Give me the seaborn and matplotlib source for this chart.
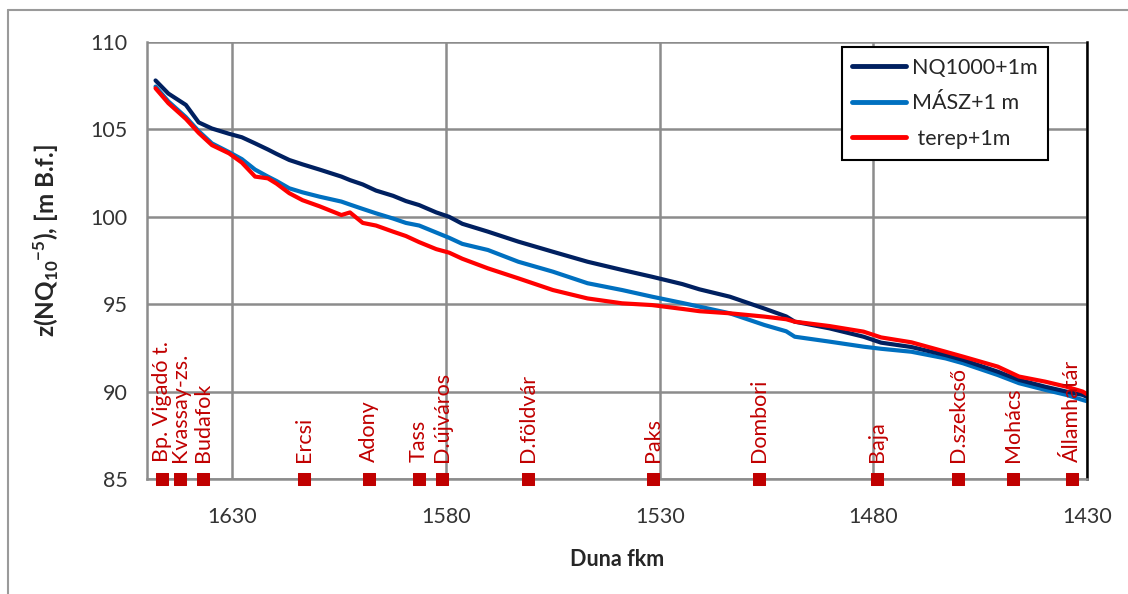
import matplotlib
matplotlib.use("Agg")
import matplotlib.pyplot as plt
from matplotlib.lines import Line2D
import seaborn as sns
import pandas as pd

# Duna fkm
fkm = [1648, 1645, 1640.9, 1637.9, 1634.8, 1630.8, 1627.8, 1624.7, 1621.7, 1619.7, 1616.7,
       1613.6, 1609.6, 1604.5, 1602.5, 1599.5, 1596.4, 1592.4, 1589.4, 1586.3, 1582.3,
       1579.3, 1576.2, 1570.2, 1563.1, 1555.0, 1546.9, 1538.8, 1531.8, 1524.7, 1520.7,
       1513.6, 1505.5, 1500.4, 1498.4, 1490.3, 1482.3, 1478.2, 1471.1, 1463.1, 1459.0,
       1450.9, 1445.9, 1439.8, 1434.8, 1431.0, 1430]

nq1000 = [107.8, 107.05, 106.4, 105.4, 105.05, 104.75, 104.55, 104.2, 103.85, 103.6, 103.25,
          103.0, 102.7, 102.3, 102.1, 101.85, 101.5, 101.2, 100.9, 100.67, 100.25, 100.0,
          99.6, 99.15, 98.58, 98.0, 97.43, 96.96, 96.57, 96.15, 95.85, 95.43, 94.75, 94.3,
          94.0, 93.62, 93.14, 92.8, 92.55, 92.09, 91.81, 91.14, 90.67, 90.28, 90.0, 89.81,
          89.7]

masz = [107.45, 106.6, 105.7, 104.9, 104.2, 103.7, 103.3, 102.7, 102.3, 102.05, 101.63,
        101.4, 101.15, 100.87, 100.7, 100.45, 100.2, 99.9, 99.65, 99.5, 99.1, 98.8, 98.45,
        98.1, 97.43, 96.86, 96.2, 95.81, 95.43, 95.07, 94.86, 94.48, 93.81, 93.45, 93.14,
        92.86, 92.57, 92.45, 92.28, 91.9, 91.62, 90.95, 90.48, 90.1, 89.81, 89.52, 89.45]

terep = [107.35, 106.5, 105.6, 104.8, 104.1, 103.63, 103.1, 102.3, 102.2, 101.9, 101.35,
         100.95, 100.6, 100.1, 100.25, 99.65, 99.5, 99.15, 98.9, 98.55, 98.15, 97.95, 97.6,
         97.05, 96.48, 95.81, 95.33, 95.05, 94.95, 94.73, 94.6, 94.48, 94.29, 94.14, 94.0,
         93.75, 93.43, 93.1, 92.82, 92.28, 92.0, 91.43, 90.86, 90.57, 90.28, 90.0, 89.85]

# állomások
allomas = ["Bp. Vigadó t.", "Kvassay-zs.", "Budafok", "Ercsi", "Adony", "Tass", "D.újváros",
           "D.földvár", "Paks", "Dombori", "Baja", "D.szekcső", "Mohács", "Államhatár"]
allomas_fkm = [1646.5, 1642.3, 1636.9, 1613.3, 1598.1, 1586.4, 1581.0, 1560.9, 1531.6,
               1506.8, 1479.2, 1460.3, 1447.4, 1433.6]

sns.set_style("white")
plt.rcParams["font.family"] = ["Lato", "DejaVu Sans"]
plt.rcParams["mathtext.default"] = "regular"

df = pd.DataFrame({"fkm": fkm, "NQ1000+1m": nq1000, "MÁSZ+1 m": masz, " terep+1m": terep})

fig = plt.figure(figsize=(11.28, 5.94), dpi=100)
ax = fig.add_axes([147 / 1128, 1 - 479 / 594, 940 / 1128, 437 / 594])

szinek = {"NQ1000+1m": "#002060", "MÁSZ+1 m": "#0070C0", " terep+1m": "#FF0000"}
# rajzolási sorrend: kék, sötétkék, piros
for nev in ["MÁSZ+1 m", "NQ1000+1m", " terep+1m"]:
    sns.lineplot(data=df, x="fkm", y=nev, ax=ax, color=szinek[nev], lw=3.0, label=nev,
                 sort=False, legend=False)

# állomás jelölők és feliratok
sns.scatterplot(x=allomas_fkm, y=[85] * len(allomas_fkm), ax=ax, marker="s", s=85,
                color="#C00000", edgecolor="#C00000", clip_on=False, zorder=5, legend=False)
for nev, x in zip(allomas, allomas_fkm):
    ax.text(x, 86.0, nev, rotation=90, ha="center", va="bottom", color="#C00000",
            fontsize=15.5, zorder=4)

ax.set_xlim(1650, 1430)
ax.set_ylim(85, 110)
ax.set_xticks([1630, 1580, 1530, 1480, 1430])
ax.set_yticks([85, 90, 95, 100, 105, 110])
ax.tick_params(axis="both", labelsize=15.5, colors="#333333", length=6, width=1.2,
               color="#8c8c8c", direction="out", pad=8)
ax.tick_params(axis="x", pad=14)
ax.grid(True, color="#8c8c8c", lw=1.8)
ax.set_axisbelow(True)

ax.spines["top"].set_visible(False)
ax.spines["left"].set_color("#8c8c8c")
ax.spines["left"].set_linewidth(1.8)
ax.spines["bottom"].set_color("#8c8c8c")
ax.spines["bottom"].set_linewidth(1.8)
ax.spines["right"].set_color("black")
ax.spines["right"].set_linewidth(1.8)

ax.set_xlabel("Duna fkm", fontsize=15.5, fontweight="bold", labelpad=16)
ax.set_ylabel("z(NQ$_{10}$$^{-5}$), [m B.f.]", fontsize=17.5, fontweight="bold")
ax.yaxis.set_label_coords(-0.092, 0.545)

# jelmagyarázat
handles = [Line2D([0], [0], color=szinek[n], lw=3.5) for n in szinek]
leg = ax.legend(handles, list(szinek.keys()), loc="upper right",
                bbox_to_anchor=(0.9585, 0.9886), fontsize=15.5, frameon=True,
                fancybox=False, edgecolor="black", framealpha=1, borderpad=0.5,
                handlelength=2.5, handletextpad=0.25, labelspacing=0.72, borderaxespad=0)
leg.get_frame().set_linewidth(1.5)

# diagram keret
fig.add_artist(Line2D([8 / 1128, 8 / 1128], [0, 1 - 10 / 594], color="#9a9a9a", lw=1.5))
fig.add_artist(Line2D([8 / 1128, 1], [1 - 10 / 594, 1 - 10 / 594], color="#9a9a9a", lw=1.5))

fig.savefig("out.png", dpi=100)
